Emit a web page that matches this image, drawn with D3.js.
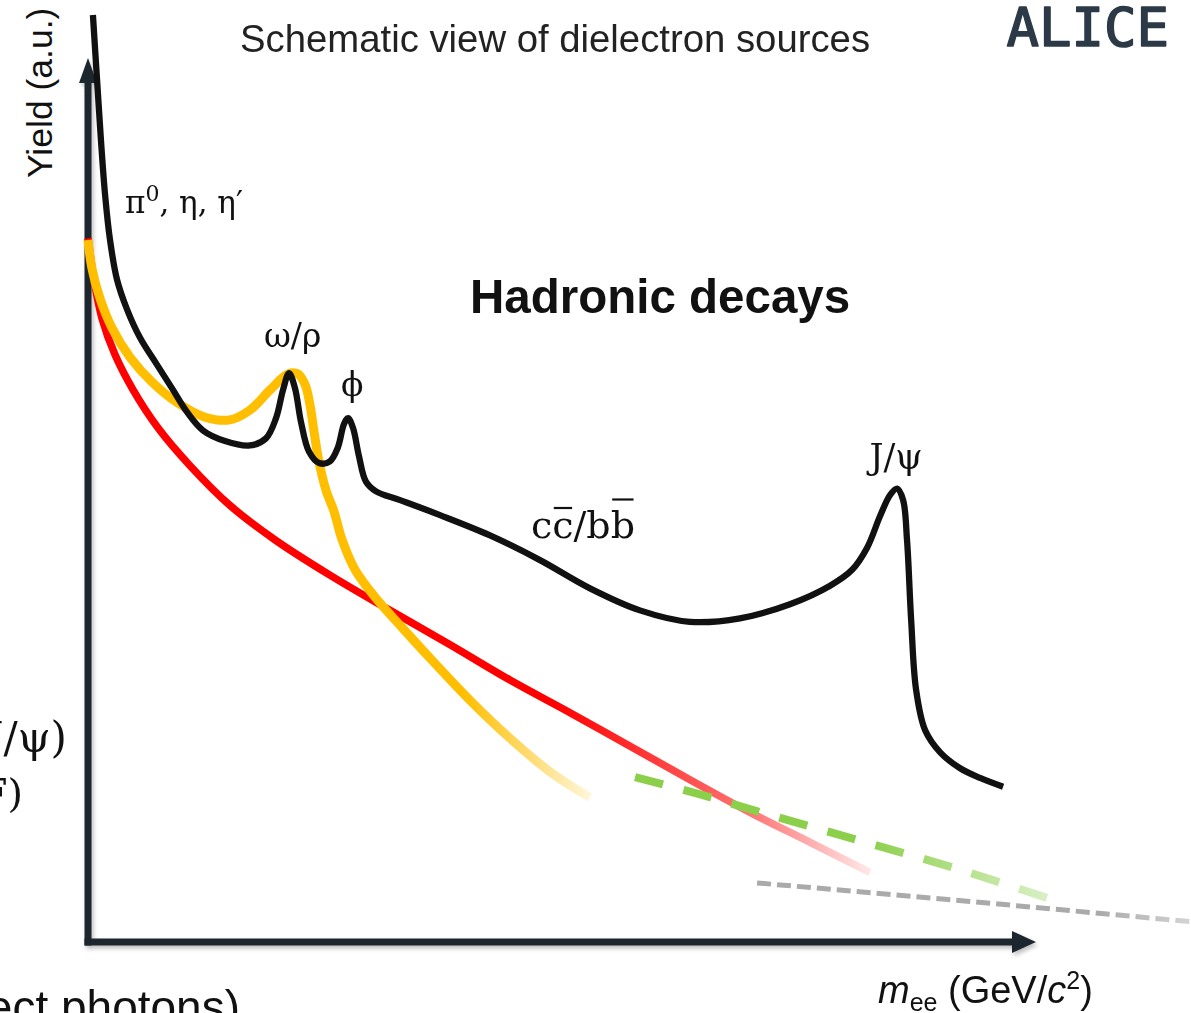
<!DOCTYPE html>
<html>
<head>
<meta charset="utf-8">
<script src="https://cdn.jsdelivr.net/npm/d3@7"></script>
<style>
  html, body { margin: 0; padding: 0; background: #fff; }
  svg { display: block; }
</style>
</head>
<body>
<svg id="chart" width="1191" height="1013"></svg>
<script>
// Schematic dielectron invariant-mass spectrum: mass in GeV/c^2, yield in arbitrary units.

// Total hadronic cocktail (black): pi0/eta/eta' Dalitz, omega/rho, phi, open charm/beauty, J/psi
const cocktailMass = [0.019, 0.035, 0.050, 0.066, 0.085, 0.112, 0.151, 0.201, 0.263, 0.324, 0.382, 0.444, 0.529, 0.625, 0.687, 0.726, 0.753, 0.776, 0.799, 0.822, 0.853, 0.892, 0.934, 0.965, 0.988, 1.004, 1.023, 1.046, 1.073, 1.112, 1.205, 1.359, 1.552, 1.745, 1.938, 2.131, 2.324, 2.517, 2.710, 2.865, 2.950, 3.008, 3.058, 3.097, 3.124, 3.147, 3.162, 3.178, 3.197, 3.232, 3.290, 3.367, 3.444, 3.533];
const cocktailYield = [10.51, 9.77, 9.09, 8.47, 7.96, 7.51, 7.17, 6.85, 6.56, 6.28, 6.01, 5.80, 5.68, 5.63, 5.71, 5.94, 6.26, 6.45, 6.28, 5.90, 5.56, 5.43, 5.45, 5.61, 5.87, 5.94, 5.83, 5.51, 5.22, 5.11, 5.01, 4.84, 4.61, 4.33, 4.01, 3.76, 3.63, 3.67, 3.83, 4.04, 4.22, 4.47, 4.83, 5.07, 5.14, 5.01, 4.56, 3.65, 2.86, 2.40, 2.15, 1.97, 1.86, 1.76];

// Hadron-gas thermal radiation (yellow)
const hadronGasMass = [0.000, 0.015, 0.046, 0.093, 0.162, 0.247, 0.347, 0.452, 0.548, 0.625, 0.703, 0.772, 0.811, 0.838, 0.857, 0.873, 0.892, 0.919, 0.950, 0.981, 1.031, 1.108, 1.205, 1.320, 1.475, 1.629, 1.784, 1.938];
const hadronGasYield = [7.96, 7.64, 7.30, 6.96, 6.63, 6.35, 6.11, 5.95, 5.92, 6.03, 6.26, 6.44, 6.44, 6.32, 6.09, 5.78, 5.44, 5.12, 4.88, 4.56, 4.22, 3.91, 3.59, 3.22, 2.74, 2.31, 1.93, 1.64];

// QGP thermal radiation (red)
const qgpMass = [0.000, 0.023, 0.054, 0.104, 0.174, 0.270, 0.394, 0.548, 0.722, 0.934, 1.166, 1.398, 1.629, 1.861, 2.093, 2.324, 2.556, 2.788, 3.019];
const qgpYield = [7.98, 7.51, 7.07, 6.66, 6.26, 5.83, 5.40, 4.95, 4.56, 4.16, 3.76, 3.37, 2.97, 2.60, 2.22, 1.84, 1.47, 1.13, 0.79];

// Drell-Yan (green, dashed)
const drellYanMass = [2.112, 2.367, 2.633, 2.942, 3.367, 3.753];
const drellYanYield = [1.87, 1.67, 1.44, 1.18, 0.82, 0.45];

// Additional high-mass continuum (grey, dashed)
const tailMass = [2.583, 3.405, 4.259];
const tailYield = [0.67, 0.46, 0.23];

const svg = d3.select("#chart");

const x = d3.scaleLinear().domain([0, 3.66]).range([88, 1036]);
const y = d3.scaleLinear().domain([0, 10]).range([942, 60]);

const defs = svg.append("defs");

// soft shadow under the axes
const shadow = defs.append("filter").attr("id", "axisShadow")
  .attr("x", "-5%").attr("y", "-5%").attr("width", "110%").attr("height", "110%");
shadow.append("feDropShadow").attr("dx", 2).attr("dy", 3).attr("stdDeviation", 2)
  .attr("flood-color", "#000").attr("flood-opacity", 0.25);

function fade(id, color, stops) {
  const g = defs.append("linearGradient").attr("id", id)
    .attr("gradientUnits", "userSpaceOnUse")
    .attr("x1", stops[0][0]).attr("x2", stops[stops.length - 1][0])
    .attr("y1", 0).attr("y2", 0);
  const x0 = stops[0][0], span = stops[stops.length - 1][0] - x0;
  stops.forEach(([px, o]) => g.append("stop")
    .attr("offset", (px - x0) / span).attr("stop-color", color).attr("stop-opacity", o));
}
fade("fadeRed", "#ff0000", [[x(1.80), 1], [x(2.55), 0.55], [x(3.03), 0.08]]);
fade("fadeYellow", "#ffbf00", [[x(1.45), 1], [x(1.95), 0.12]]);
fade("fadeGreen", "#8bcf4a", [[x(3.0), 1], [x(3.78), 0.25]]);
fade("fadeGrey", "#aaaaaa", [[x(3.9), 1], [x(4.26), 0.5]]);

// ---- axes with arrowheads ----
const axisColor = "#1e262d";
const axes = svg.append("g").attr("filter", "url(#axisShadow)");

const xAxis = d3.axisBottom(x).tickValues([]).tickSizeOuter(0);
const yAxis = d3.axisLeft(y).tickValues([]).tickSizeOuter(0);

const xa = axes.append("g").attr("transform", `translate(0,${y(0)})`).call(xAxis);
xa.select(".domain").attr("d", `M${x(0) - 3.5},0H${x(3.66) - 22}`)
  .attr("stroke", axisColor).attr("stroke-width", 7);
const ya = axes.append("g").attr("transform", `translate(${x(0)},0)`).call(yAxis);
ya.select(".domain").attr("d", `M0,${y(0) + 3.5}V${y(10) + 22}`)
  .attr("stroke", axisColor).attr("stroke-width", 7);

axes.append("path")
  .attr("d", `M${x(3.66)},${y(0)}L${x(3.66) - 24},${y(0) - 11}L${x(3.66) - 24},${y(0) + 11}Z`)
  .attr("fill", axisColor);
axes.append("path")
  .attr("d", `M${x(0)},${y(10) - 2}L${x(0) - 9},${y(10) + 23}L${x(0) + 9},${y(10) + 23}Z`)
  .attr("fill", axisColor);

// ---- curves ----
const line = d3.line()
  .x(d => x(d[0])).y(d => y(d[1]))
  .curve(d3.curveCatmullRom.alpha(0.5));
const zip = (a, b) => a.map((v, i) => [v, b[i]]);

svg.append("path").datum(zip(tailMass, tailYield))
  .attr("d", d3.line().x(d => x(d[0])).y(d => y(d[1])))
  .attr("fill", "none").attr("stroke", "url(#fadeGrey)")
  .attr("stroke-width", 5).attr("stroke-dasharray", "14,6");

svg.append("path").datum(zip(qgpMass, qgpYield))
  .attr("d", line).attr("fill", "none")
  .attr("stroke", "url(#fadeRed)").attr("stroke-width", 7.5);

svg.append("path").datum(zip(hadronGasMass, hadronGasYield))
  .attr("d", line).attr("fill", "none")
  .attr("stroke", "url(#fadeYellow)").attr("stroke-width", 9);

svg.append("path").datum(zip(drellYanMass, drellYanYield))
  .attr("d", line).attr("fill", "none")
  .attr("stroke", "url(#fadeGreen)").attr("stroke-width", 8)
  .attr("stroke-dasharray", "29,21");

svg.append("path").datum(zip(cocktailMass, cocktailYield))
  .attr("d", line).attr("fill", "none")
  .attr("stroke", "#111").attr("stroke-width", 6.3)
  .attr("stroke-linejoin", "round");

// ---- text ----
const sans = "'Liberation Sans', Arial, Helvetica, sans-serif";
const serif = "'DejaVu Serif', 'Liberation Serif', serif";

svg.append("text").attr("x", 240).attr("y", 52)
  .attr("font-family", sans).attr("font-size", 38.3).attr("fill", "#222")
  .text("Schematic view of dielectron sources");

svg.append("text").attr("x", 1169).attr("y", 46).attr("text-anchor", "end")
  .attr("font-family", "'DejaVu Sans Mono', monospace")
  .attr("font-size", 54).attr("fill", "#2c3a47")
  .attr("stroke", "#2c3a47").attr("stroke-width", 1.6).attr("stroke-linejoin", "round")
  .text("ALICE");

svg.append("text").attr("transform", "translate(52,178) rotate(-90)")
  .attr("font-family", sans).attr("font-size", 35.5).attr("fill", "#111")
  .text("Yield (a.u.)");

svg.append("text").attr("x", 470).attr("y", 313)
  .attr("font-family", sans).attr("font-weight", "bold").attr("font-size", 47.5)
  .attr("fill", "#111").text("Hadronic decays");

const pi = svg.append("text").attr("x", 125).attr("y", 213)
  .attr("font-family", serif).attr("font-size", 31).attr("fill", "#111");
pi.append("tspan").text("π");
pi.append("tspan").attr("dy", -12).attr("font-size", 22).text("0");
pi.append("tspan").attr("dy", 12).text(", η, η′");

svg.append("text").attr("x", x(0.79)).attr("y", 347).attr("text-anchor", "middle")
  .attr("font-family", serif).attr("font-size", 33).attr("fill", "#111").text("ω/ρ");
svg.append("text").attr("x", x(1.02)).attr("y", 396).attr("text-anchor", "middle")
  .attr("font-family", serif).attr("font-size", 33).attr("fill", "#111").text("ϕ");
svg.append("text").attr("x", x(3.12)).attr("y", 469).attr("text-anchor", "middle")
  .attr("font-family", serif).attr("font-size", 35).attr("fill", "#111").text("J/ψ");

// open heavy flavour label, with bars drawn over the antiquarks
const hfSize = 38;
const hf = svg.append("text").attr("x", 531).attr("y", 538)
  .attr("font-family", serif).attr("font-size", hfSize).attr("fill", "#111")
  .text("cc/bb");
const hfNode = hf.node();
[[1, 30], [4, 38.5]].forEach(([i, h]) => {
  const e = hfNode.getExtentOfChar(i);
  svg.append("line")
    .attr("x1", e.x + 1.5).attr("x2", e.x + e.width - 1.5)
    .attr("y1", 538 - h).attr("y2", 538 - h)
    .attr("stroke", "#111").attr("stroke-width", 2.2);
});

svg.append("text").attr("x", 67).attr("y", 752).attr("text-anchor", "end")
  .attr("font-family", serif).attr("font-size", 42).attr("fill", "#111").text("(J/ψ)");
svg.append("text").attr("x", 23).attr("y", 807).attr("text-anchor", "end")
  .attr("font-family", serif).attr("font-size", 40).attr("fill", "#111").text("(HF)");

svg.append("text").attr("x", 240).attr("y", 1023).attr("text-anchor", "end")
  .attr("font-family", sans).attr("font-size", 46).attr("fill", "#111")
  .text("(direct photons)");

const xl = svg.append("text").attr("x", 878).attr("y", 1003)
  .attr("font-family", sans).attr("font-size", 38).attr("fill", "#111");
xl.append("tspan").attr("font-style", "italic").text("m");
xl.append("tspan").attr("dy", 8).attr("font-size", 25).text("ee");
xl.append("tspan").attr("dy", -8).text(" (GeV/");
xl.append("tspan").attr("font-style", "italic").text("c");
xl.append("tspan").attr("dy", -14).attr("font-size", 25).text("2");
xl.append("tspan").attr("dy", 14).text(")");
</script>
</body>
</html>
